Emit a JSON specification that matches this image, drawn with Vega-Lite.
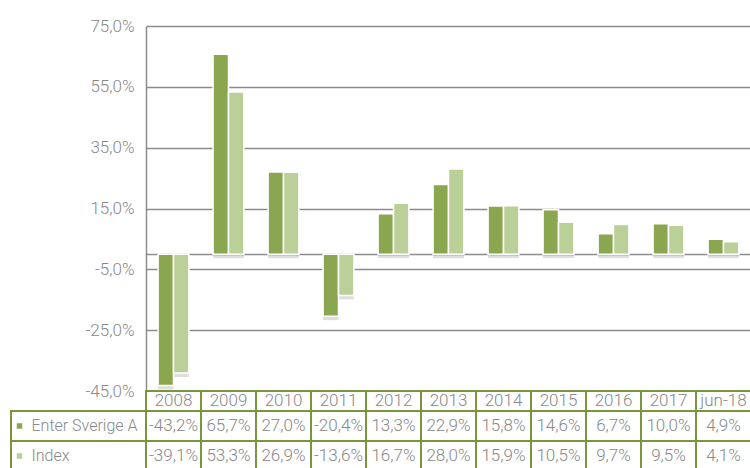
{
  "$schema": "https://vega.github.io/schema/vega-lite/v6.json",
  "padding": {"left": 10, "top": 17, "right": 0, "bottom": 0},
  "config": {
    "locale": {"number": {"decimal": ",", "thousands": " ", "grouping": [3], "currency": ["", " kr"], "minus": "-"}},
    "view": {"stroke": null},
    "font": "Roboto",
    "legend": {"disable": true}
  },
  "datasets": {
    "returns": [
      {"period": "2008", "series": "Enter Sverige A", "return": -0.432},
      {"period": "2008", "series": "Index", "return": -0.391},
      {"period": "2009", "series": "Enter Sverige A", "return": 0.657},
      {"period": "2009", "series": "Index", "return": 0.533},
      {"period": "2010", "series": "Enter Sverige A", "return": 0.270},
      {"period": "2010", "series": "Index", "return": 0.269},
      {"period": "2011", "series": "Enter Sverige A", "return": -0.204},
      {"period": "2011", "series": "Index", "return": -0.136},
      {"period": "2012", "series": "Enter Sverige A", "return": 0.133},
      {"period": "2012", "series": "Index", "return": 0.167},
      {"period": "2013", "series": "Enter Sverige A", "return": 0.229},
      {"period": "2013", "series": "Index", "return": 0.280},
      {"period": "2014", "series": "Enter Sverige A", "return": 0.158},
      {"period": "2014", "series": "Index", "return": 0.159},
      {"period": "2015", "series": "Enter Sverige A", "return": 0.146},
      {"period": "2015", "series": "Index", "return": 0.105},
      {"period": "2016", "series": "Enter Sverige A", "return": 0.067},
      {"period": "2016", "series": "Index", "return": 0.097},
      {"period": "2017", "series": "Enter Sverige A", "return": 0.100},
      {"period": "2017", "series": "Index", "return": 0.095},
      {"period": "jun-18", "series": "Enter Sverige A", "return": 0.049},
      {"period": "jun-18", "series": "Index", "return": 0.041}
    ]
  },
  "data": {"name": "returns"},
  "columns": 2,
  "spacing": 0,
  "bounds": "flush",
  "align": "each",
  "resolve": {"scale": {"x": "independent", "y": "independent", "color": "shared"}},
  "concat": [
    {
      "width": 135,
      "height": 365,
      "data": {"values": []},
      "mark": "rect",
      "encoding": {}
    },
    {
      "width": 605,
      "height": 365,
      "encoding": {
        "x": {
          "field": "period", "type": "nominal", "sort": null,
          "scale": {"paddingInner": 0.44, "paddingOuter": 0.22},
          "axis": null
        },
        "xOffset": {"field": "series", "type": "nominal", "sort": null},
        "y": {
          "field": "return", "type": "quantitative",
          "scale": {"domain": [-0.45, 0.75], "nice": false, "zero": false},
          "axis": {
            "title": null,
            "values": [-0.45, -0.25, -0.05, 0, 0.15, 0.35, 0.55, 0.75],
            "format": ".1%",
            "labelExpr": "datum.value === 0 ? '' : datum.label",
            "grid": true, "gridColor": "#8c8c8c", "gridWidth": 1.5,
            "domainColor": "#8c8c8c", "domainWidth": 1.5,
            "ticks": false, "labelPadding": 12,
            "labelFontSize": 17, "labelColor": "#888888", "labelFontWeight": 300
          }
        }
      },
      "layer": [
        {
          "mark": {"type": "bar", "fill": "#000000", "opacity": 0.13, "xOffset": 3, "yOffset": 4}
        },
        {
          "mark": {"type": "bar", "stroke": "white", "strokeWidth": 1.5},
          "encoding": {
            "color": {
              "field": "series", "type": "nominal", "sort": null,
              "scale": {"domain": ["Enter Sverige A", "Index"], "range": ["#8aa64e", "#bbcf98"]}
            }
          }
        }
      ]
    },
    {
      "width": 135,
      "height": 20,
      "data": {"values": []},
      "mark": "rect",
      "encoding": {}
    },
    {
      "width": 605,
      "height": 20,
      "transform": [{"filter": "datum.series === 'Index'"}],
      "encoding": {
        "x": {"field": "period", "type": "nominal", "sort": null, "axis": null}
      },
      "layer": [
        {"mark": {"type": "rect", "fill": "white", "stroke": "#7a963c", "strokeWidth": 2}},
        {
          "mark": {"type": "text", "fontSize": 17, "fontWeight": 300, "color": "#888888"},
          "encoding": {"text": {"field": "period"}}
        }
      ]
    },
    {
      "width": 135,
      "height": 60,
      "transform": [{"filter": "datum.period === '2008'"}],
      "encoding": {
        "y": {"field": "series", "type": "nominal", "sort": null, "axis": null}
      },
      "layer": [
        {"mark": {"type": "rect", "fill": "white", "stroke": "#7a963c", "strokeWidth": 2}},
        {
          "mark": {"type": "point", "shape": "square", "filled": true, "size": 30, "opacity": 1, "xOffset": -59},
          "encoding": {
            "color": {"field": "series", "type": "nominal", "sort": null}
          }
        },
        {
          "mark": {"type": "text", "align": "left", "dx": -47, "fontSize": 16, "fontWeight": 300, "color": "#888888"},
          "encoding": {"text": {"field": "series"}}
        }
      ]
    },
    {
      "width": 605,
      "height": 60,
      "encoding": {
        "x": {"field": "period", "type": "nominal", "sort": null, "axis": null},
        "y": {"field": "series", "type": "nominal", "sort": null, "axis": null}
      },
      "layer": [
        {"mark": {"type": "rect", "fill": "white", "stroke": "#7a963c", "strokeWidth": 2}},
        {
          "mark": {"type": "text", "fontSize": 17, "fontWeight": 300, "color": "#888888"},
          "encoding": {"text": {"field": "return", "type": "quantitative", "format": ".1%"}}
        }
      ]
    }
  ]
}
